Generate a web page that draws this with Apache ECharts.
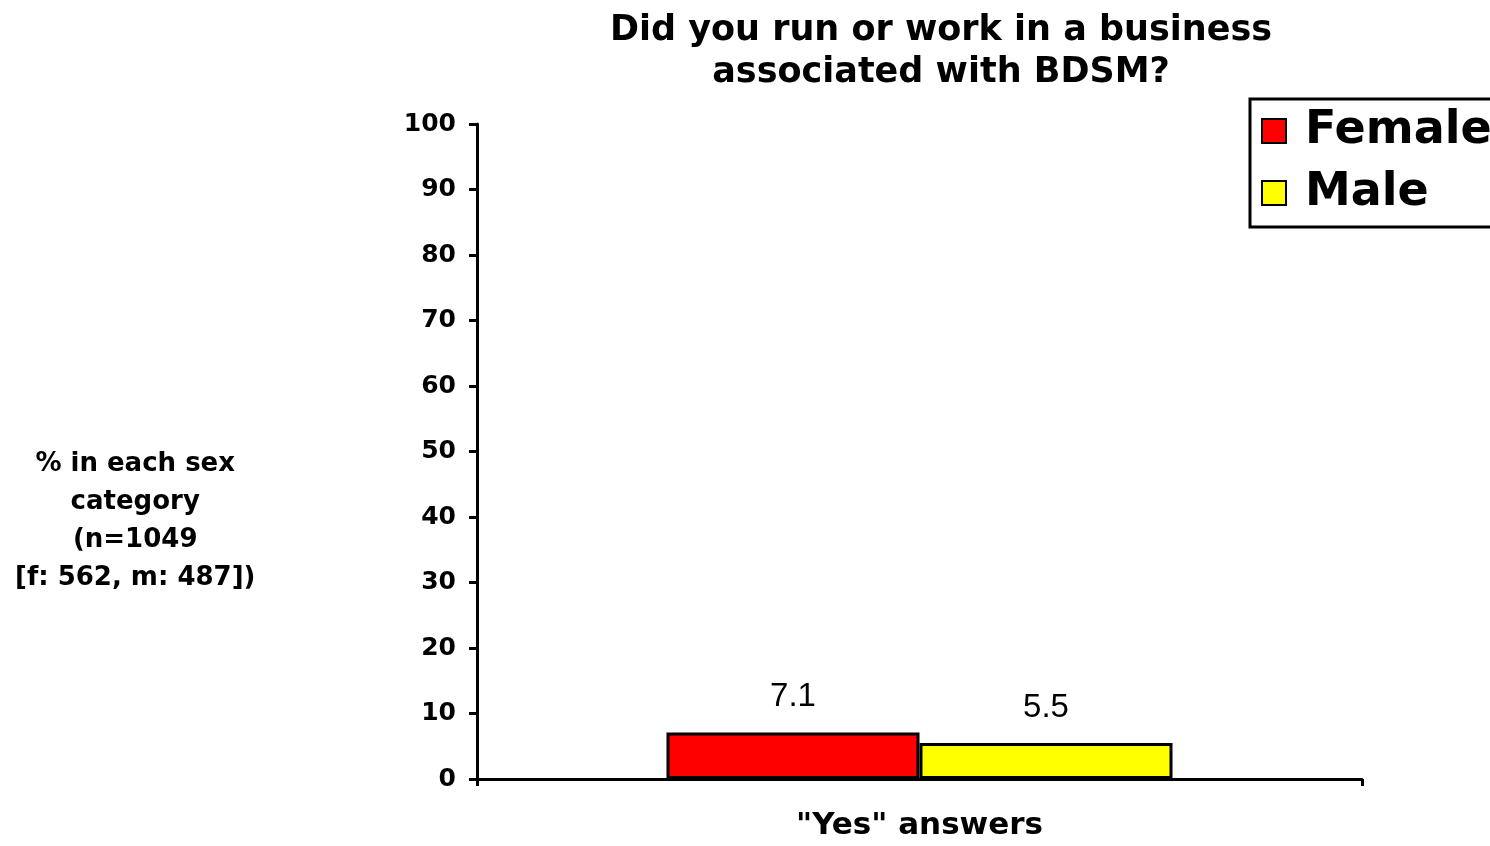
<!DOCTYPE html>
<html>
<head>
<meta charset="utf-8">
<script src="https://cdn.jsdelivr.net/npm/echarts@6/dist/echarts.min.js"></script>
<style>html,body{margin:0;padding:0;background:#fff}#c{width:1490px;height:846px}</style>
</head>
<body>
<div id="c"></div>
<script>
const categories = ['"Yes" answers'];
const femaleValues = [7.1];
const maleValues = [5.5];
const seriesNames = ['Female', 'Male'];
const titleText = 'Did you run or work in a business\nassociated with BDSM?';
const yAxisTitle = '% in each sex\ncategory\n(n=1049\n[f: 562, m: 487])';

const BOLD = '"DejaVu Sans", "Liberation Sans", Arial, sans-serif';
const PLAIN = '"Liberation Sans", Arial, Helvetica, sans-serif';
const chart = echarts.init(document.getElementById('c'));
chart.setOption({
  animation: false,
  backgroundColor: '#fff',
  title: {
    text: titleText,
    left: 936, top: 5, textAlign: 'center',
    textStyle: { fontFamily: BOLD, fontWeight: 'bold', fontSize: 35, lineHeight: 42, color: '#000' }
  },
  legend: {
    orient: 'vertical', left: 1250, top: 99,
    padding: [6, 10, 8, 11], itemGap: 10,
    borderColor: '#000', borderWidth: 3, backgroundColor: '#fff',
    icon: 'rect', itemWidth: 24, itemHeight: 24,
    textStyle: { fontFamily: BOLD, fontWeight: 'bold', fontSize: 46, lineHeight: 52, color: '#000', padding: [0, 0, 0, 14] },
    data: seriesNames
  },
  graphic: [{
    type: 'text', left: 15, top: 445,
    style: { text: yAxisTitle, width: 240, x: 115, textAlign: 'center', font: 'bold 26px ' + BOLD, lineHeight: 38, fill: '#000' }
  }],
  grid: { left: 477, right: 128, top: 124, bottom: 67, containLabel: false },
  xAxis: {
    type: 'category', data: categories,
    axisLine: { lineStyle: { color: '#000', width: 3 } },
    axisTick: { show: true, length: 7, lineStyle: { color: '#000', width: 3 } },
    axisLabel: { margin: 31, fontFamily: BOLD, fontWeight: 'bold', fontSize: 31, color: '#000' }
  },
  yAxis: {
    type: 'value', min: 0, max: 100, interval: 10,
    splitLine: { show: false },
    axisLine: { show: true, lineStyle: { color: '#000', width: 3 } },
    axisTick: { show: true, length: 8, lineStyle: { color: '#000', width: 3 } },
    axisLabel: { margin: 21, fontFamily: BOLD, fontWeight: 'bold', fontSize: 25, color: '#000' }
  },
  series: [
    {
      name: seriesNames[0], type: 'bar', data: femaleValues, barWidth: 253, barGap: '0%',
      itemStyle: { color: '#ff0000', borderColor: '#000', borderWidth: 3 },
      label: { show: true, position: 'top', distance: 19, fontFamily: PLAIN, fontSize: 33, color: '#000' }
    },
    {
      name: seriesNames[1], type: 'bar', data: maleValues, barWidth: 253, barGap: '0%',
      itemStyle: { color: '#ffff00', borderColor: '#000', borderWidth: 3 },
      label: { show: true, position: 'top', distance: 19, fontFamily: PLAIN, fontSize: 33, color: '#000' }
    }
  ]
});
</script>
</body>
</html>
